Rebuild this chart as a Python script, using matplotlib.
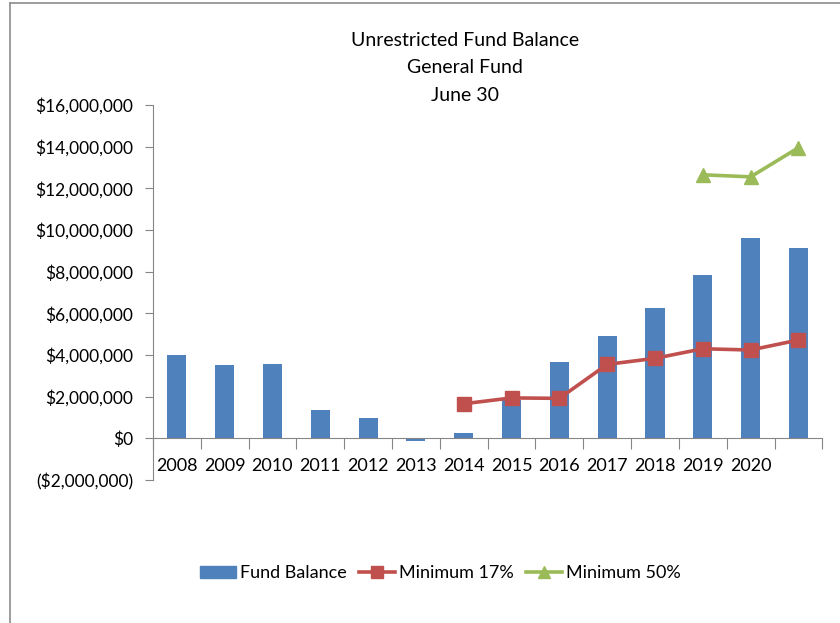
import matplotlib as mpl
mpl.use("Agg")
import matplotlib.pyplot as plt
from matplotlib.lines import Line2D
from matplotlib.patches import Patch
from matplotlib.ticker import FuncFormatter
import numpy as np

plt.rcParams["font.family"] = ["Lato", "DejaVu Sans"]

# ---------------------------------------------------------------------------
# data
# ---------------------------------------------------------------------------
YEARS = ["2008", "2009", "2010", "2011", "2012", "2013", "2014",
         "2015", "2016", "2017", "2018", "2019", "2020", ""]
FUND_BALANCE = [4.00e6, 3.50e6, 3.58e6, 1.37e6, 0.96e6, -0.13e6, 0.24e6,
                1.85e6, 3.68e6, 4.90e6, 6.25e6, 7.82e6, 9.60e6, 9.12e6]
MIN_17 = [np.nan, np.nan, np.nan, np.nan, np.nan, np.nan, 1.66e6,
          1.94e6, 1.92e6, 3.55e6, 3.84e6, 4.30e6, 4.24e6, 4.72e6]
MIN_50 = [np.nan] * 11 + [12.65e6, 12.55e6, 13.95e6]

BLUE = "#4F81BD"
RED = "#C0504D"
GREEN = "#9BBB59"
AXIS = "#868686"


def money(v, _pos):
    if v < 0:
        return f"(${-v:,.0f})"
    return f"${v:,.0f}"


fig = plt.figure(figsize=(8.4, 6.23), dpi=100)
ax = fig.add_axes([0.182, 0.2295, 0.797, 0.602])

x = np.arange(len(YEARS))
ax.bar(x, FUND_BALANCE, width=0.4, color=BLUE, zorder=2, label="Fund Balance")
ax.plot(x, MIN_17, color=RED, lw=2.6, marker="s", ms=10, zorder=3,
        label="Minimum 17%")
ax.plot(x, MIN_50, color=GREEN, lw=2.6, marker="^", ms=10, zorder=3,
        label="Minimum 50%")

ax.set_xlim(-0.5, len(YEARS) - 0.5)
ax.set_ylim(-2e6, 16e6)
ax.set_yticks(np.arange(-2e6, 16.1e6, 2e6))
ax.yaxis.set_major_formatter(FuncFormatter(money))

# category axis sits on zero, ticks between categories (Excel style)
for s in ("top", "right"):
    ax.spines[s].set_visible(False)
ax.spines["bottom"].set_position(("data", 0))
ax.spines["bottom"].set_color(AXIS)
ax.spines["left"].set_color(AXIS)
ax.set_xticks(np.arange(-0.5, len(YEARS), 1))
ax.set_xticklabels([])
ax.set_xticks(x, minor=True)
ax.set_xticklabels(YEARS, minor=True)
ax.tick_params(axis="x", which="major", length=8, color=AXIS, direction="out")
ax.tick_params(axis="x", which="minor", length=0, pad=14, labelsize=13)
ax.tick_params(axis="y", length=6, color=AXIS, labelsize=12.5, pad=8)

fig.text(0.554, 0.948, "Unrestricted Fund Balance\nGeneral Fund\nJune 30",
         ha="center", va="top", fontsize=14, linespacing=1.72)

handles = [Patch(color=BLUE),
           Line2D([], [], color=RED, lw=2.6, marker="s", ms=9),
           Line2D([], [], color=GREEN, lw=2.6, marker="^", ms=9)]
fig.legend(handles, ["Fund Balance", "Minimum 17%", "Minimum 50%"],
           loc="center", bbox_to_anchor=(0.524, 0.08), ncol=3, frameon=False,
           fontsize=13, handlelength=2.0, handletextpad=0.2,
           columnspacing=0.7)

# chart-area frame (top and left edges visible in the crop)
fig.add_artist(Line2D([10 / 840, 1], [1 - 3 / 623, 1 - 3 / 623],
                      transform=fig.transFigure, color="#8c8c8c", lw=1.2))
fig.add_artist(Line2D([10 / 840, 10 / 840], [0, 1 - 3 / 623],
                      transform=fig.transFigure, color="#8c8c8c", lw=1.2))

fig.savefig("out.png", dpi=100)
